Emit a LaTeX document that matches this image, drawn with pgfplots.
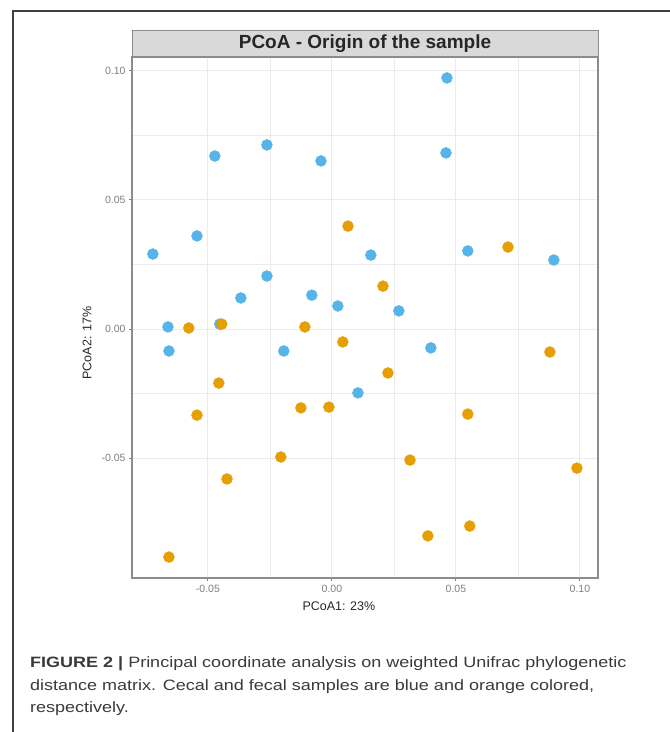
\documentclass[border=0pt]{standalone}
\usepackage{pgfplots}
\pgfplotsset{compat=1.18}
\usepackage{fontspec}
\setmainfont{Liberation Sans}
\newfontfamily\capfont[FakeStretch=1.2]{Liberation Sans}
\definecolor{cecal}{HTML}{56B4E9}
\definecolor{fecal}{HTML}{E69F00}
\definecolor{gridc}{HTML}{EBEBEB}
\definecolor{framec}{HTML}{8C8C8C}
\definecolor{tickc}{HTML}{7F7F7F}
\definecolor{stripc}{HTML}{D9D9D9}
\definecolor{capc}{HTML}{3A3A3A}
\begin{document}
\begin{tikzpicture}
\path[use as bounding box] (0,0) rectangle (670pt,-732pt);
% outer frame lines
\draw[line width=1.2pt, black!75] (13pt,-732pt) -- (13pt,-11pt) -- (670pt,-11pt);
% facet strip
\draw[fill=stripc, draw=framec, line width=1pt] (132pt,-30pt) rectangle (598pt,-57pt);
\node[font=\bfseries\fontsize{19}{20}\selectfont, text=black!85] at (365pt,-43.5pt) {PCoA - Origin of the sample};
\begin{axis}[
  at={(132pt,-57pt)}, anchor=north west,
  width=466pt, height=521pt, scale only axis,
  xmin=-0.0806, xmax=0.1073, ymin=-0.0963, ymax=0.1052,
  xtick={-0.05,0,0.05,0.10}, ytick={-0.05,0,0.05,0.10},
  minor tick num=1,
  grid=both,
  major grid style={gridc, line width=0.9pt},
  minor grid style={gridc, line width=0.6pt},
  axis line style={framec, line width=1.2pt},
  tick style={tickc, line width=0.8pt},
  major tick length=3pt, minor tick length=0pt,
  tick align=outside,
  xtick pos=bottom, ytick pos=left,
  /pgf/number format/assume math mode=true,
  /pgf/number format/.cd, fixed, fixed zerofill, precision=2,
  /pgfplots/.cd,
  scaled ticks=false,
  ticklabel style={font=\fontsize{10.5}{11}\selectfont, text=tickc},
  xticklabel style={yshift=-1pt},
  xlabel={PCoA1: 23\%},
  ylabel={PCoA2: 17\%},
  label style={font=\fontsize{12.5}{13}\selectfont, text=black!85},
  xlabel style={at={(axis description cs:0.444,-0.054)}, anchor=center},
  ylabel style={at={(axis description cs:-0.0966,0.451)}, anchor=center, rotate=0},
  clip=false,
]
\addplot[only marks, mark=*, mark size=5.5pt, color=cecal] coordinates {
(0.0464,0.0971) (0.0460,0.0681) (-0.0262,0.0712) (-0.0472,0.0669) (-0.0044,0.0650)
(-0.0544,0.0360) (-0.0722,0.0290) (0.0157,0.0286) (0.0548,0.0302) (0.0895,0.0267)
(-0.0262,0.0205) (-0.0367,0.0120) (-0.0081,0.0131) (0.0024,0.0089) (0.0270,0.0070)
(-0.0661,0.0008) (-0.0452,0.0019) (-0.0657,-0.0085) (-0.0194,-0.0085) (0.0399,-0.0073)
(0.0105,-0.0247)
};
\addplot[only marks, mark=*, mark size=5.5pt, color=fecal] coordinates {
(0.0065,0.0398) (0.0710,0.0317) (0.0206,0.0166) (-0.0577,0.0004) (-0.0444,0.0019)
(-0.0109,0.0008) (0.0044,-0.0050) (0.0879,-0.0089) (0.0226,-0.0170) (-0.0456,-0.0209)
(-0.0544,-0.0333) (-0.0125,-0.0305) (-0.0012,-0.0302) (0.0548,-0.0329) (-0.0206,-0.0495)
(0.0315,-0.0507) (0.0988,-0.0538) (-0.0423,-0.0580) (0.0556,-0.0762) (0.0387,-0.0800)
(-0.0657,-0.0882)
};
\end{axis}
% right border of panel
\draw[framec, line width=1.2pt] (598pt,-57pt) -- (598pt,-578pt);
\node[anchor=base west, text=capc, font=\capfont\fontsize{15}{22}\selectfont, inner sep=0pt] at (30pt,-667pt) {\textbf{FIGURE 2 |} Principal coordinate analysis on weighted Unifrac phylogenetic};
\node[anchor=base west, text=capc, font=\capfont\fontsize{15}{22}\selectfont, inner sep=0pt] at (30pt,-690pt) {distance matrix. Cecal and fecal samples are blue and orange colored,};
\node[anchor=base west, text=capc, font=\capfont\fontsize{15}{22}\selectfont, inner sep=0pt] at (30pt,-712pt) {respectively.};
\end{tikzpicture}
\end{document}
